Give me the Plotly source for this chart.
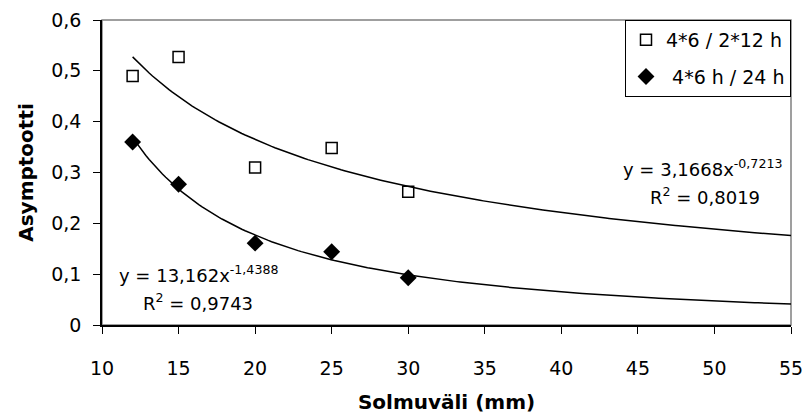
import numpy as np
import plotly.graph_objects as go

# Data
solmuvali = [12, 15, 20, 25, 30]
series_a_name = "4*6 / 2*12 h"
series_a = [0.49, 0.527, 0.31, 0.348, 0.262]
series_b_name = " 4*6 h / 24 h"
series_b = [0.36, 0.277, 0.161, 0.144, 0.093]

# Power trendline coefficients (as printed on the chart)
trend_a = (3.1668, -0.7213, 0.8019)
trend_b = (13.162, -1.4388, 0.9743)
trend_x_range = (12, 55)

x_ticks = [10, 15, 20, 25, 30, 35, 40, 45, 50, 55]
y_ticks = [0, 0.1, 0.2, 0.3, 0.4, 0.5, 0.6]
y_tick_labels = ["0", "0,1", "0,2", "0,3", "0,4", "0,5", "0,6"]

FONT = "DejaVu Sans, Liberation Sans, Arial, sans-serif"

tx = np.linspace(trend_x_range[0], trend_x_range[1], 200)

fig = go.Figure()
fig.add_trace(go.Scatter(x=tx, y=trend_a[0] * tx ** trend_a[1], mode="lines",
                         line=dict(color="black", width=1.5), showlegend=False, hoverinfo="skip"))
fig.add_trace(go.Scatter(x=tx, y=trend_b[0] * tx ** trend_b[1], mode="lines",
                         line=dict(color="black", width=1.5), showlegend=False, hoverinfo="skip"))
fig.add_trace(go.Scatter(x=solmuvali, y=series_a, mode="markers", name=series_a_name,
                         legendgroup="a",
                         marker=dict(symbol="square-open", size=11, color="black",
                                     line=dict(color="black", width=1.5))))
fig.add_trace(go.Scatter(x=solmuvali, y=series_b, mode="markers", name=series_b_name,
                         legendgroup="b",
                         marker=dict(symbol="diamond", size=13, color="black")))

def fmt(v):
    return f"{v}".replace(".", ",")

ann_font = dict(family=FONT, size=18, color="black")
annotations = [
    dict(x=49.2, y=0.309, text=f"y = {fmt(trend_a[0])}x<sup>{fmt(trend_a[1])}</sup>"),
    dict(x=49.4, y=0.253, text=f"R<sup>2</sup> = {fmt(trend_a[2])}"),
    dict(x=16.3, y=0.101, text=f"y = {fmt(trend_b[0])}x<sup>{fmt(trend_b[1])}</sup>"),
    dict(x=16.3, y=0.046, text=f"R<sup>2</sup> = {fmt(trend_b[2])}"),
]
for a in annotations:
    a.update(xref="x", yref="y", showarrow=False, font=ann_font, xanchor="center", yanchor="middle")

fig.update_layout(
    width=806, height=414,
    margin=dict(l=101.5, r=15, t=20, b=89, autoexpand=False),
    paper_bgcolor="white", plot_bgcolor="white",
    font=dict(family=FONT, size=19, color="black"),
    annotations=annotations,
    shapes=[dict(type="rect", xref="paper", yref="paper", x0=0, y0=0, x1=1, y1=1,
                 line=dict(color="#808080", width=1.5), layer="below")],
    legend=dict(x=1.0, y=1.0, xanchor="right", yanchor="top",
                bgcolor="white", bordercolor="black", borderwidth=1,
                font=dict(family=FONT, size=19, color="black"),
                itemwidth=30, tracegroupgap=9),
    xaxis=dict(range=[10, 55], tickvals=x_ticks, showgrid=False, zeroline=False,
               showline=True, linecolor="black", linewidth=1.5, automargin=False,
               ticks="outside", ticklen=7, tickcolor="black", tickwidth=1,
               ticklabelstandoff=18,
               tickfont=dict(family=FONT, size=19),
               title=dict(text="<b>Solmuväli (mm)</b>", font=dict(family=FONT, size=20), standoff=20)),
    yaxis=dict(range=[0, 0.6], tickvals=y_ticks, ticktext=y_tick_labels, showgrid=False, zeroline=False,
               showline=True, linecolor="black", linewidth=1.5, automargin=False,
               ticks="outside", ticklen=7, tickcolor="black", tickwidth=1,
               ticklabelstandoff=8,
               tickfont=dict(family=FONT, size=19),
               title=dict(text="<b>Asymptootti</b>", font=dict(family=FONT, size=20), standoff=12)),
)

fig.write_html("out.html")
